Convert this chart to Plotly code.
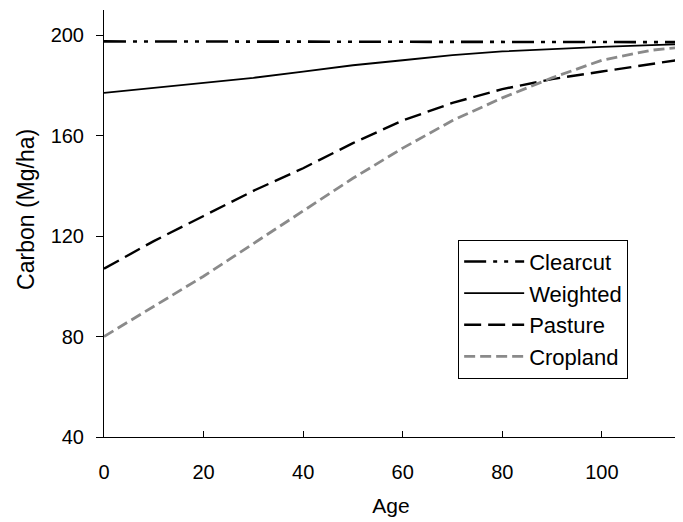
import plotly.graph_objects as go

ages = [0, 10, 20, 30, 40, 50, 60, 70, 80, 90, 100, 110, 115]
clearcut = [197.5, 197.5, 197.5, 197.5, 197.5, 197.5, 197.5, 197.5, 197.4, 197.4, 197.3, 197.3, 197.2]
weighted = [177, 179, 181, 183, 185.5, 188, 190, 192, 193.5, 194.5, 195.3, 196, 196.3]
pasture = [107, 118, 128, 138, 147, 157, 166, 173, 178.5, 182.5, 185.5, 188.5, 190]
cropland = [80, 92, 104, 117, 130, 143, 155, 166, 175, 183, 190, 194, 195]

series = [
    ("Clearcut", clearcut, dict(color="black", width=2.6, dash="22px,7px,4px,7px,4px,7px")),
    ("Weighted", weighted, dict(color="black", width=1.8)),
    ("Pasture", pasture, dict(color="black", width=2.4, dash="17px,7px")),
    ("Cropland", cropland, dict(color="#8a8a8a", width=2.8, dash="11px,5px")),
]

fig = go.Figure()
for i, (name, vals, line) in enumerate(series):
    fig.add_trace(go.Scatter(x=ages, y=vals, name=name, mode="lines", line=line,
                             legendgroup=f"g{i}"))

ff = "Liberation Sans, Arial, sans-serif"
fig.update_layout(
    width=683, height=522,
    margin=dict(l=96, r=13, t=2, b=93),
    plot_bgcolor="white", paper_bgcolor="white",
    font=dict(family=ff, size=20, color="black"),
    showlegend=True,
    legend=dict(x=0.617, y=0.462, xanchor="left", yanchor="top",
                bordercolor="black", borderwidth=1, bgcolor="white",
                font=dict(family=ff, size=22), itemwidth=60,
                tracegroupgap=0),
    annotations=[dict(text="Carbon (Mg/ha)", textangle=-90, xref="paper", yref="paper",
                      x=-0.136, y=0.534, xanchor="center", yanchor="middle",
                      showarrow=False, font=dict(family=ff, size=23))],
)
fig.update_xaxes(range=[0, 115.3], tickvals=[0, 20, 40, 60, 80, 100],
                 showgrid=False, zeroline=False, showline=True, linecolor="black",
                 linewidth=1, ticks="inside", ticklen=6, tickcolor="black",
                 ticklabelstandoff=17,
                 title=dict(text="Age", standoff=16, font=dict(size=21)))
fig.update_yaxes(range=[40, 210], tickvals=[40, 80, 120, 160, 200],
                 showgrid=False, zeroline=False, showline=True, mirror=True,
                 linecolor="black", linewidth=1, ticks="outside", ticklen=7,
                 tickcolor="black", ticklabelstandoff=8)

fig.write_html("out.html")
